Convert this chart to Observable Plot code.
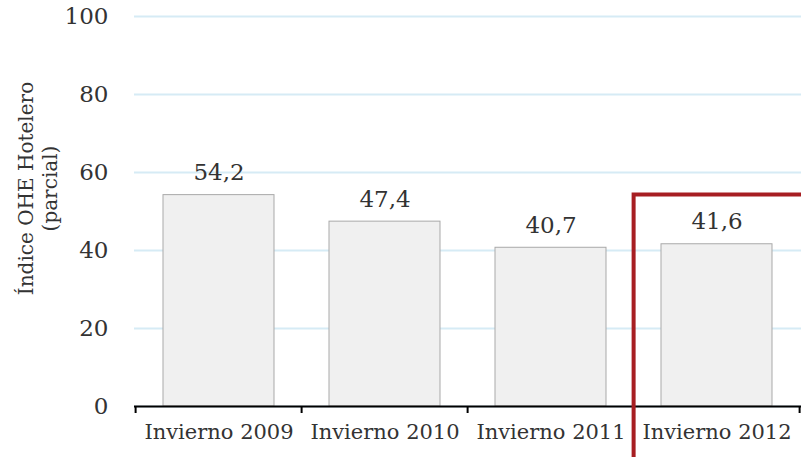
<!DOCTYPE html>
<html>
<head>
<meta charset="utf-8">
<script src="https://cdn.jsdelivr.net/npm/d3@7"></script>
<script src="https://cdn.jsdelivr.net/npm/@observablehq/plot@0.6"></script>
<style>
  html, body { margin: 0; padding: 0; background: #fff; }
</style>
</head>
<body>
<div id="chart"></div>
<script>
const categories = ["Invierno 2009", "Invierno 2010", "Invierno 2011", "Invierno 2012"];
const values = [54.2, 47.4, 40.7, 41.6];
const valueLabels = ["54,2", "47,4", "40,7", "41,6"];
const yTicks = [0, 20, 40, 60, 80, 100];
const yTitle = ["Índice OHE Hotelero", "(parcial)"];
const highlighted = "Invierno 2012";

const data = categories.map((c, i) => ({cat: c, value: values[i], label: valueLabels[i]}));
const PAD = 0.33;

// boundary tick marks under the x axis, computed from the band scale
function boundaryTicks(index, scales, values, dims) {
  const x = scales.x, y = scales.y;
  const step = x(categories[1]) - x(categories[0]);
  const bw = step * (1 - PAD);
  const gap = (step - bw) / 2;
  const xs = categories.map(c => x(c) - gap);
  xs.push(x(categories[categories.length - 1]) + bw + gap);
  const g = d3.create("svg:g");
  const y0 = y(0);
  xs.forEach(px => {
    g.append("line")
      .attr("x1", Math.min(px, dims.width - 1)).attr("x2", Math.min(px, dims.width - 1))
      .attr("y1", y0).attr("y2", y0 + 7)
      .attr("stroke", "#000").attr("stroke-width", 2);
  });
  return g.node();
}

// red highlight frame around the last category
function highlightFrame(index, scales, values, dims) {
  const x = scales.x, y = scales.y;
  const step = x(categories[1]) - x(categories[0]);
  const bw = step * (1 - PAD);
  const gap = (step - bw) / 2;
  const px = x(highlighted) - gap;
  const py = y(d3.max(data, d => d.value));
  const g = d3.create("svg:g");
  g.append("path")
    .attr("d", `M${px},${dims.height}V${py}H${dims.width}`)
    .attr("fill", "none")
    .attr("stroke", "#a71e22")
    .attr("stroke-width", 4);
  return g.node();
}

const chart = Plot.plot({
  width: 801,
  height: 457,
  marginLeft: 134,
  marginRight: 0,
  marginTop: 16,
  marginBottom: 51,
  style: {fontFamily: "DejaVu Serif", fontSize: "19px", color: "#333", background: "#fff", overflow: "visible"},
  x: {domain: categories, paddingInner: PAD, paddingOuter: PAD / 2, align: 0.5, axis: null},
  y: {domain: [0, 100], axis: null},
  marks: [
    Plot.gridY(yTicks, {stroke: "#d6ebf5", strokeOpacity: 1, strokeWidth: 2}),
    Plot.barY(data, {x: "cat", y: "value", fill: "#f0f0f0", stroke: "#a9a9a9", strokeWidth: 1}),
    Plot.text(data, {x: "cat", y: "value", text: "label", lineAnchor: "bottom", dy: -15, fontSize: 23, fill: "#333"}),
    Plot.axisY({ticks: yTicks, tickSize: 0, tickPadding: 26, fontSize: 23, label: null, tickFormat: d => String(d)}),
    Plot.axisX({tickSize: 0, tickPadding: 18, fontSize: 21, label: null}),
    Plot.ruleY([0], {stroke: "#000", strokeWidth: 2}),
    boundaryTicks,
    Plot.text([yTitle.join("\n")], {frameAnchor: "left", textAnchor: "middle", lineAnchor: "middle", rotate: -90, dx: -97, dy: -23, fontSize: 20, lineHeight: 1.2, fill: "#333"}),
    highlightFrame
  ]
});

document.getElementById("chart").appendChild(chart);
</script>
</body>
</html>
